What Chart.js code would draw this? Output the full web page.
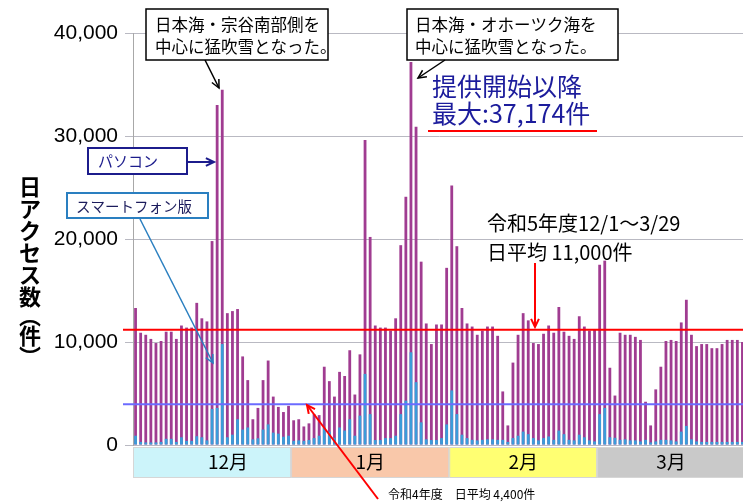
<!DOCTYPE html>
<html lang="ja">
<head>
<meta charset="utf-8">
<title>日アクセス数</title>
<script src="https://cdn.jsdelivr.net/npm/chart.js@4/dist/chart.umd.min.js"></script>
<style>
  html, body { margin: 0; padding: 0; background: #fff; overflow: hidden; }
  #wrap { width: 745px; height: 504px; }
</style>
</head>
<body>
<div id="wrap"><canvas id="accessChart"></canvas></div>
<script>
// --- DATA (件/日) ---
const months = ['12月', '1月', '2月', '3月'];
const monthNums = ['12', '1', '2', '3'];
const monthColors = ['#ccf4fa', '#f9c8aa', '#ffff72', '#c9c9c9'];

// パソコン
const pcDec = [13300, 10900, 10700, 10300, 9900, 10100, 11000, 11000, 10300, 11600, 11400, 11400, 13800, 12300, 12000,
               19800, 33000, 34500, 12800, 13000, 13200, 8600, 6300, 2500, 3600, 6300, 8200, 4700, 3700, 3200, 3800];
const pcJan = [2400, 2500, 1800, 2100, 3000, 2900, 7600, 6200, 4700, 7100, 6700, 9200, 4900, 8800, 29600, 20200,
               11600, 11400, 11400, 11100, 12300, 19400, 24100, 37174, 30900, 17800, 11800, 9800, 11700, 11700, 17200];
const pcFeb = [25200, 19300, 13300, 11800, 11500, 10700, 11100, 11500, 11500, 10600, 5200, 1900, 8000, 10700, 12800,
               12100, 9900, 9800, 10800, 11600, 10900, 13400, 11000, 10600, 10300, 12500, 11500, 11100, 11200];
const pcMar = [17500, 17900, 7500, 4800, 10900, 10700, 10700, 10500, 10200, 4200, 1900, 5400, 7600, 10100, 10200,
               10100, 11900, 14100, 10700, 9600, 9800, 9800, 9400, 9400, 9800, 10200, 10200, 10200, 10000];

// スマートフォン版
const spDec = [900, 300, 250, 250, 250, 300, 600, 600, 300, 750, 400, 400, 850, 750, 450,
               3500, 3600, 9800, 750, 1000, 2500, 1500, 1700, 550, 650, 1500, 2000, 1200, 1100, 800, 900];
const spJan = [400, 450, 400, 480, 670, 900, 1700, 1300, 700, 1700, 1400, 2500, 900, 2850, 6900, 3000,
               480, 480, 670, 670, 900, 3000, 4300, 9000, 6100, 2200, 550, 480, 480, 670, 2000];
const spFeb = [5300, 3000, 1000, 670, 500, 450, 500, 550, 550, 500, 500, 300, 670, 900, 1300,
               1050, 670, 450, 670, 830, 500, 1400, 1050, 500, 450, 1000, 750, 450, 350];
const spMar = [3000, 3600, 750, 700, 500, 550, 450, 450, 350, 500, 250, 350, 500, 500, 450,
               350, 1300, 1850, 550, 350, 300, 300, 300, 300, 300, 300, 300, 300, 300];

const yMax = 40000;
const yStep = 10000;
const avgThisYear = 11200;  // 赤線（令和5年度 日平均）
const avgLastYear = 3950;   // 青線（令和4年度 日平均）

const pcByMonth = [pcDec, pcJan, pcFeb, pcMar];
const pcData = [].concat(...pcByMonth);
const spData = [].concat(spDec, spJan, spFeb, spMar);
const labels = [];
pcByMonth.forEach((arr, k) => arr.forEach((_, i) => labels.push(monthNums[k] + '/' + (i + 1))));

const JP = '"Noto Sans CJK JP", "Noto Sans", sans-serif';

// --- HELPERS ---
function arrow(ctx, x1, y1, x2, y2, color, w) {
    const a = Math.atan2(y2 - y1, x2 - x1), h = 9;
    ctx.save();
    ctx.strokeStyle = color;
    ctx.lineWidth = w;
    ctx.beginPath();
    ctx.moveTo(x1, y1);
    ctx.lineTo(x2, y2);
    ctx.stroke();
    ctx.beginPath();
    ctx.moveTo(x2 - h * Math.cos(a - 0.45), y2 - h * Math.sin(a - 0.45));
    ctx.lineTo(x2, y2);
    ctx.lineTo(x2 - h * Math.cos(a + 0.45), y2 - h * Math.sin(a + 0.45));
    ctx.stroke();
    ctx.restore();
}

function box(ctx, x, y, w, h, color, lw) {
    ctx.save();
    ctx.fillStyle = '#fff';
    ctx.fillRect(x, y, w, h);
    ctx.strokeStyle = color;
    ctx.lineWidth = lw;
    ctx.strokeRect(x, y, w, h);
    ctx.restore();
}

function text(ctx, str, x, y, font, color) {
    ctx.save();
    ctx.font = font;
    ctx.fillStyle = color;
    ctx.textAlign = 'left';
    ctx.textBaseline = 'middle';
    ctx.fillText(str, x, y);
    ctx.restore();
}

// --- PLUGINS ---
const monthBand = {
    id: 'monthBand',
    afterDraw(chart) {
        const { ctx, chartArea } = chart;
        const x = chart.scales.x;
        const half = (x.getPixelForValue(1) - x.getPixelForValue(0)) / 2;
        const top = chartArea.bottom + 2;
        const labelShift = [16, 0, 0, 0];
        let start = 0;
        ctx.save();
        months.forEach((m, k) => {
            const end = start + pcByMonth[k].length - 1;
            const left = x.getPixelForValue(start) - half;
            const right = x.getPixelForValue(end) + half;
            ctx.fillStyle = monthColors[k];
            ctx.fillRect(left, top, right - left, 30);
            ctx.strokeStyle = '#d6d6d6';
            ctx.lineWidth = 1;
            ctx.strokeRect(left + 0.5, top + 0.5, right - left - 1, 30);
            ctx.fillStyle = '#000';
            ctx.font = '19px ' + JP;
            ctx.textAlign = 'center';
            ctx.textBaseline = 'middle';
            ctx.fillText(m, (left + right) / 2 + labelShift[k], top + 15);
            start = end + 1;
        });
        ctx.restore();
    }
};

const avgLines = {
    id: 'avgLines',
    afterDatasetsDraw(chart) {
        const { ctx, chartArea } = chart;
        const y = chart.scales.y;
        ctx.save();
        ctx.lineWidth = 2;
        ctx.strokeStyle = '#ff0000';
        ctx.beginPath();
        ctx.moveTo(123, y.getPixelForValue(avgThisYear));
        ctx.lineTo(chartArea.right, y.getPixelForValue(avgThisYear));
        ctx.stroke();
        ctx.strokeStyle = '#6b6bff';
        ctx.beginPath();
        ctx.moveTo(123, y.getPixelForValue(avgLastYear));
        ctx.lineTo(chartArea.right, y.getPixelForValue(avgLastYear));
        ctx.stroke();
        ctx.restore();
    }
};

const yTitle = {
    id: 'yTitle',
    afterDraw(chart) {
        const ctx = chart.ctx;
        const chars = ['日', 'ア', 'ク', 'セ', 'ス', '数', '︵', '件', '︶'];
        const ys = [187, 209, 231, 253, 275, 297, 316, 336, 357];
        ctx.save();
        ctx.font = 'bold 22px ' + JP;
        ctx.fillStyle = '#000';
        ctx.textAlign = 'center';
        ctx.textBaseline = 'middle';
        chars.forEach((c, i) => ctx.fillText(c, 30, ys[i]));
        ctx.restore();
    }
};

const notes = {
    id: 'notes',
    afterDraw(chart) {
        const ctx = chart.ctx;
        // 猛吹雪の注記
        box(ctx, 146, 9, 182, 51, '#000', 1.5);
        text(ctx, '日本海・宗谷南部側を', 155, 25, '16.5px ' + JP, '#000');
        text(ctx, '中心に猛吹雪となった。', 155, 47, '16.5px ' + JP, '#000');
        arrow(ctx, 205, 60, 219, 88, '#000', 1.5);

        box(ctx, 407, 9, 211, 51, '#000', 1.5);
        text(ctx, '日本海・オホーツク海を', 415, 25, '16.5px ' + JP, '#000');
        text(ctx, '中心に猛吹雪となった。', 415, 47, '16.5px ' + JP, '#000');
        arrow(ctx, 445, 60, 418, 78, '#000', 1.5);

        // 最大値
        text(ctx, '提供開始以降', 432, 86, '25px ' + JP, '#1c1c9c');
        text(ctx, '最大:37,174件', 432, 113, '25px ' + JP, '#1c1c9c');
        ctx.save();
        ctx.strokeStyle = '#ff0000';
        ctx.lineWidth = 2;
        ctx.beginPath();
        ctx.moveTo(428, 131);
        ctx.lineTo(597, 131);
        ctx.stroke();
        ctx.restore();

        // 凡例代わりの吹き出し
        box(ctx, 88, 148, 99, 26, '#1c1c8c', 2);
        text(ctx, 'パソコン', 98, 161, '15px ' + JP, '#1c1c8c');
        arrow(ctx, 187, 162, 214, 162, '#1c1c8c', 2);

        box(ctx, 67, 193, 141, 25, '#2a7fc0', 2);
        text(ctx, 'スマートフォン版', 76, 206, '14.5px ' + JP, '#1c1c5c');
        arrow(ctx, 140, 219, 213, 363, '#2a7fc0', 1.5);

        // 平均
        text(ctx, '令和5年度12/1～3/29', 487, 223, '20px ' + JP, '#000');
        text(ctx, '日平均 11,000件', 487, 252, '20px ' + JP, '#000');
        arrow(ctx, 535, 263, 535, 327, '#ff0000', 2);

        text(ctx, '令和4年度　日平均 4,400件', 388, 494, '12px ' + JP, '#000');
        arrow(ctx, 378, 499, 307, 405, '#ff0000', 2);
    }
};

// --- CHART ---
new Chart(document.getElementById('accessChart'), {
    type: 'bar',
    data: {
        labels: labels,
        datasets: [
            {
                label: 'スマートフォン版',
                data: spData,
                backgroundColor: '#3b9cd9',
                barPercentage: 0.55,
                categoryPercentage: 1.0,
                order: 0
            },
            {
                label: 'パソコン',
                data: pcData,
                backgroundColor: '#a03c91',
                barPercentage: 0.55,
                categoryPercentage: 1.0,
                order: 1
            }
        ]
    },
    options: {
        responsive: true,
        maintainAspectRatio: false,
        animation: false,
        devicePixelRatio: 1,
        layout: { padding: { top: 33, right: 0, bottom: 59, left: 0 } },
        plugins: {
            legend: { display: false },
            tooltip: { enabled: false }
        },
        scales: {
            x: {
                display: false,
                stacked: true
            },
            y: {
                stacked: false,
                min: 0,
                max: yMax,
                afterFit(scale) { scale.width = 133; },
                ticks: {
                    stepSize: yStep,
                    padding: 7,
                    color: '#000',
                    font: { family: '"Liberation Sans", Arial, sans-serif', size: 21 },
                    callback: v => v.toLocaleString('en-US')
                },
                grid: {
                    color: '#b9b9c2',
                    tickLength: 8
                },
                border: { color: '#a8a8a8' }
            }
        }
    },
    plugins: [avgLines, monthBand, yTitle, notes]
});
</script>
</body>
</html>
